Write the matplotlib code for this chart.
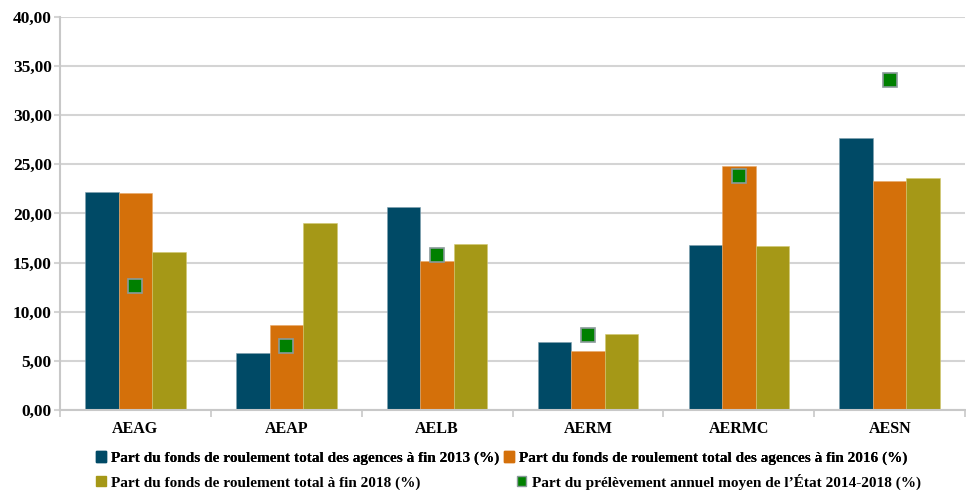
import matplotlib.pyplot as plt
import numpy as np
from matplotlib.patches import Patch

agences = ['AEAG', 'AEAP', 'AELB', 'AERM', 'AERMC', 'AESN']
fdr_2013 = [22.15, 5.75, 20.65, 6.95, 16.8, 27.65]
fdr_2016 = [22.1, 8.6, 15.2, 6.05, 24.8, 23.3]
fdr_2018 = [16.1, 19.0, 16.9, 7.75, 16.7, 23.65]
prelevement = [12.6, 6.5, 15.8, 7.6, 23.85, 33.6]

labels = ['Part du fonds de roulement total des agences à fin 2013 (%)',
          'Part du fonds de roulement total des agences à fin 2016 (%)',
          'Part du fonds de roulement total à fin 2018 (%)',
          'Part du prélèvement annuel moyen de l\u2019État 2014-2018 (%)']
colors = ['#004a66', '#d4700a', '#a59817', '#008000']

plt.rcParams['font.family'] = ['Liberation Serif', 'DejaVu Serif']
plt.rcParams['font.weight'] = 'bold'

fig = plt.figure(figsize=(9.66, 4.9), dpi=100)
ax = fig.add_axes([0.0621, 0.1633, 0.937, 0.802])

x = np.arange(len(agences))
w = 0.222
ax.bar(x - w, fdr_2013, w, color=colors[0], edgecolor='#7f9fae', linewidth=0.4, zorder=2)
ax.bar(x, fdr_2016, w, color=colors[1], edgecolor='#e8a868', linewidth=0.4, zorder=2)
ax.bar(x + w, fdr_2018, w, color=colors[2], edgecolor='#d2c970', linewidth=0.4, zorder=2)
ax.plot(x, prelevement, ls='none', marker='s', ms=10, mfc=colors[3],
        mec='#8a9a9a', mew=1.2, zorder=3)

ax.set_xlim(-0.5, len(agences) - 0.5)
ax.set_ylim(0, 40)
ax.set_yticks(np.arange(0, 41, 5))
ax.set_yticklabels([f'{v:.2f}'.replace('.', ',') for v in np.arange(0, 41, 5)], fontsize=12.5)
ax.yaxis.grid(True, color='#d4d4d4', linewidth=1.5, zorder=0)
ax.tick_params(axis='y', length=4, color='#d4d4d4', width=1.5, pad=2)

ax.set_xticks(x)
ax.set_xticklabels(agences, fontsize=11.5)
ax.set_xticks(np.arange(-0.5, len(agences), 1), minor=True)
ax.tick_params(axis='x', which='major', length=0, pad=8)
ax.tick_params(axis='x', which='minor', length=5, color='#c8c8c8', width=1.2)

for s in ['top', 'right']:
    ax.spines[s].set_visible(False)
ax.spines['left'].set_color('#c8c8c8')
ax.spines['left'].set_linewidth(1.5)
ax.spines['bottom'].set_color('#c8c8c8')
ax.spines['bottom'].set_linewidth(1.5)

h = [Patch(color=c) for c in colors[:3]]
h.append(Patch(facecolor=colors[3], edgecolor='#8a9a9a'))
leg1 = fig.legend(h[:2], labels[:2], loc='center left', bbox_to_anchor=(0.099, 0.065), ncol=2,
                  frameon=False, fontsize=11, handlelength=0.65, handleheight=0.65,
                  handletextpad=0.35, columnspacing=0.3, borderpad=0, borderaxespad=0)
leg2 = fig.legend(h[2:], labels[2:], loc='center left', bbox_to_anchor=(0.099, 0.017), ncol=2,
                  frameon=False, fontsize=11, handlelength=0.65, handleheight=0.65,
                  handletextpad=0.35, columnspacing=6.3, borderpad=0, borderaxespad=0)
fig.add_artist(leg1)

fig.savefig('out.png', dpi=100)
